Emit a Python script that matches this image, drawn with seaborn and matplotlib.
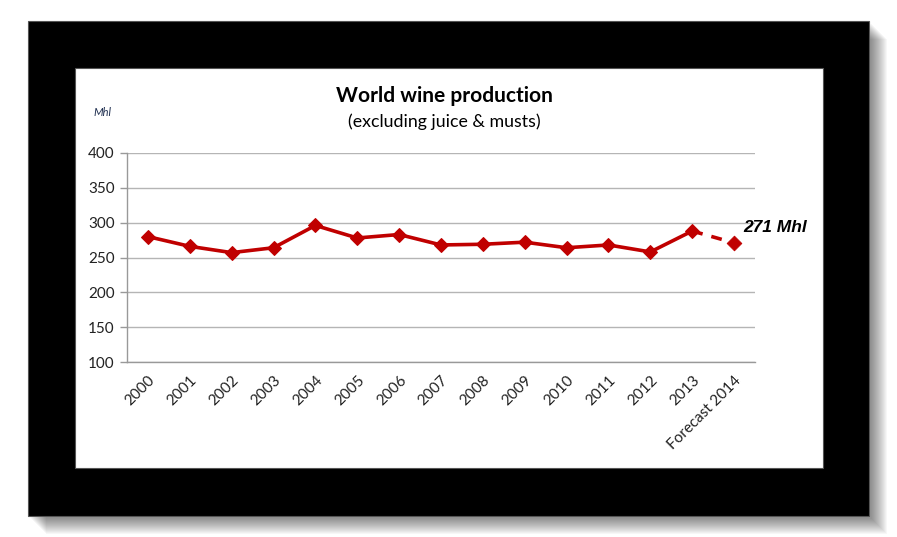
import pandas as pd
import seaborn as sns
import matplotlib.pyplot as plt
from matplotlib.patches import Rectangle

# Data: world wine production, Mhl
years = ["2000", "2001", "2002", "2003", "2004", "2005", "2006", "2007",
         "2008", "2009", "2010", "2011", "2012", "2013", "Forecast 2014"]
production = [280, 266, 257, 264, 296, 278, 283, 268, 269, 272, 264, 268, 258, 288, 271]
y_ticks = [100, 150, 200, 250, 300, 350, 400]

df = pd.DataFrame({"year": years, "mhl": production})
red = "#C00000"

sns.set_style("white")
plt.rcParams["font.family"] = ["Lato", "DejaVu Sans"]

fig = plt.figure(figsize=(8.97, 5.37), dpi=100)
W, H = 897, 537

# soft shadow behind the black frame
for i in range(16):
    off = 3 + i
    fig.patches.append(Rectangle(((28 + off) / W, 1 - (516 + off) / H), 841 / W, 495 / H,
                                 transform=fig.transFigure, color="black",
                                 alpha=0.03, lw=0, zorder=0))
fig.patches.append(Rectangle((28 / W, 1 - 516 / H), 841 / W, 495 / H,
                             transform=fig.transFigure, facecolor="black",
                             edgecolor="#555555", lw=0.8, zorder=1))
fig.patches.append(Rectangle((75 / W, 1 - 468 / H), 748 / W, 400 / H,
                             transform=fig.transFigure, facecolor="white",
                             edgecolor="#555555", lw=0.8, zorder=2))

ax = fig.add_axes([127 / W, 1 - 362 / H, 628 / W, 209 / H])
ax.set_facecolor("none")
ax.set_zorder(3)

main = df.iloc[:14]
fc = df.iloc[13:]
sns.lineplot(data=main, x="year", y="mhl", ax=ax, color=red, lw=2.6,
             marker="D", markersize=7.5, markeredgecolor=red, sort=False)
sns.lineplot(data=fc, x="year", y="mhl", ax=ax, color=red, lw=2.6,
             linestyle=(0, (3, 2.5)), sort=False)
sns.scatterplot(data=fc.iloc[1:], x="year", y="mhl", ax=ax, color=red,
                marker="D", s=56, edgecolor=red)

ax.set_xlim(-0.5, len(years) - 0.5)
ax.set_ylim(100, 400)
ax.set_yticks(y_ticks)
ax.set_yticklabels([str(v) for v in y_ticks], fontsize=11, color="#222222")
ax.set_xticks(range(len(years)))
ax.set_xticklabels(years, rotation=45, ha="right", rotation_mode="anchor",
                   fontsize=11, color="#222222")
ax.set_xticks([i - 0.5 for i in range(len(years) + 1)], minor=True)
ax.tick_params(axis="x", which="major", length=0, pad=8)
ax.tick_params(axis="x", which="minor", length=5, color="#999999", width=1)
ax.tick_params(axis="y", length=5, color="#999999", width=1, pad=4, left=True)
ax.grid(axis="y", color="#B5B5B5", lw=1)
ax.set_axisbelow(True)
for s in ["top", "right"]:
    ax.spines[s].set_visible(False)
for s in ["left", "bottom"]:
    ax.spines[s].set_color("#999999")
    ax.spines[s].set_linewidth(1)
ax.set_xlabel("")
ax.set_ylabel("")

fig.text(444 / W, 1 - 96 / H, "World wine production", ha="center", va="center",
         fontsize=15, fontweight="bold", color="black", zorder=4)
fig.text(444 / W, 1 - 122 / H, "(excluding juice & musts)", ha="center", va="center",
         fontsize=12.8, color="black", zorder=4)
fig.text(102 / W, 1 - 113 / H, "Mhl", ha="center", va="center", fontsize=8,
         style="italic", color="#1F2F50", zorder=4)
ax.text(14.22, 293, f"{production[-1]} Mhl", ha="left", va="center", fontsize=12.5,
        fontweight="bold", style="italic", family=["Liberation Sans", "DejaVu Sans"],
        color="black", clip_on=False)

fig.savefig("out.png", dpi=100, facecolor="white")
